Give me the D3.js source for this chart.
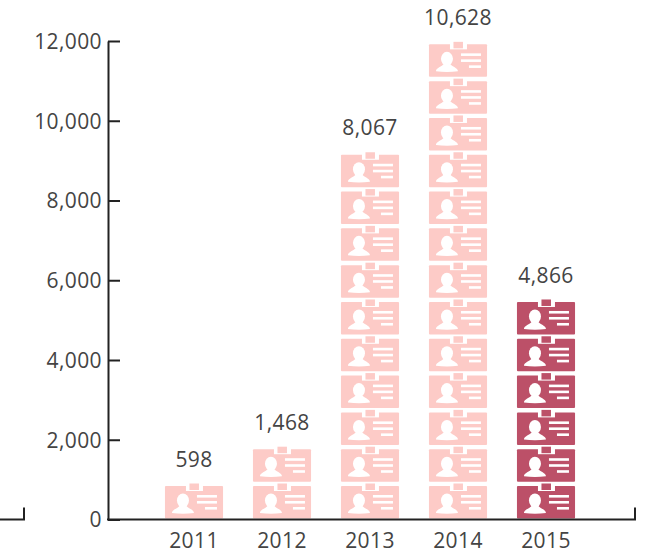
<!DOCTYPE html>
<html>
<head>
<meta charset="utf-8">
<script src="https://cdn.jsdelivr.net/npm/d3@7"></script>
<style>
  html, body { margin: 0; padding: 0; background: #fff; }
  text { font-family: "Open Sans", sans-serif; font-size: 21px; letter-spacing: 0.4px; fill: #444; }
</style>
</head>
<body>
<svg id="chart" width="646" height="550"></svg>
<script>
var years = ['2011', '2012', '2013', '2014', '2015'];
var values = [598, 1468, 8067, 10628, 4866];
// icons stacked per year, counted off the picture
var iconCounts = [1, 2, 10, 13, 6];
var barColors = ['#fdcbc7', '#fdcbc7', '#fdcbc7', '#fdcbc7', '#bc5068'];
var yTicks = [0, 2000, 4000, 6000, 8000, 10000, 12000];
// y-axis units taken up by one stacked icon
var iconUnit = 923;

var svg = d3.select('#chart');

var x = d3.scaleBand().domain(years).range([150, 590]).paddingInner(0.34).paddingOuter(0.17);
var y = d3.scaleLinear().domain([0, 12000]).range([519.5, 41]);

var iconW = x.bandwidth();
var iconH = 32.5;

// draws one id card badge, origin at the bottom left of the card
function drawIcon(g, color) {
  g.append('rect').attr('x', 0).attr('y', -iconH).attr('width', iconW).attr('height', iconH)
    .attr('rx', 1).attr('fill', color);
  // clip on the top edge
  g.append('rect').attr('x', 21).attr('y', -iconH - 1).attr('width', 17).attr('height', 6).attr('fill', '#fff');
  g.append('rect').attr('x', 24.5).attr('y', -iconH - 2.5).attr('width', 9.5).attr('height', 6.5).attr('fill', color);
  // person
  g.append('ellipse').attr('cx', 18).attr('cy', -18).attr('rx', 6).attr('ry', 7).attr('fill', '#fff');
  g.append('path')
    .attr('d', 'M7,-5.5 C7,-9 13,-10 15,-13 L21,-13 C23,-10 29,-9 29,-5.5 Q18,-4 7,-5.5 Z')
    .attr('fill', '#fff');
  // text lines
  [[32, -23.5], [32, -17.5], [40, -11.5]].forEach(function(l) {
    g.append('rect').attr('x', l[0]).attr('y', l[1]).attr('width', 52 - l[0]).attr('height', 2.6).attr('fill', '#fff');
  });
}

years.forEach(function(year, i) {
  var col = svg.append('g').attr('class', 'col');
  d3.range(iconCounts[i]).forEach(function(k) {
    var g = col.append('g')
      .attr('transform', 'translate(' + x(year) + ',' + (y(k * iconUnit) - 1) + ')');
    drawIcon(g, barColors[i]);
  });
  col.append('text')
    .attr('x', x(year) + iconW / 2)
    .attr('y', y(iconCounts[i] * iconUnit) - 16)
    .attr('text-anchor', 'middle')
    .text(d3.format(',')(values[i]));
});

// y axis
var yAxis = d3.axisLeft(y).tickValues(yTicks).tickFormat(d3.format(',')).tickSize(0).tickPadding(6);
var yG = svg.append('g').attr('class', 'axis yAxis').attr('transform', 'translate(108,0)').call(yAxis);
yG.select('.domain').attr('stroke', '#222').attr('stroke-width', 2);
yG.selectAll('.tick line').attr('x2', 12).attr('stroke', '#222').attr('stroke-width', 2);
yG.selectAll('.tick text').attr('dy', '0.35em');

// x axis
var xAxis = d3.axisBottom(x).tickSize(0).tickPadding(13.5);
var xG = svg.append('g').attr('class', 'axis xAxis').attr('transform', 'translate(0,' + y(0) + ')').call(xAxis);
xG.select('.domain').remove();
xG.selectAll('.tick text').attr('dy', '0.71em');

var lineColor = '#222';
// baseline with its end tick, plus the stub left of the labels
svg.append('path').attr('fill', 'none').attr('stroke', lineColor).attr('stroke-width', 2)
  .attr('d', 'M107,' + y(0) + 'H635V' + (y(0) - 12));
svg.append('path').attr('fill', 'none').attr('stroke', lineColor).attr('stroke-width', 2)
  .attr('d', 'M0,' + y(0) + 'H24V' + (y(0) - 12));
</script>
</body>
</html>
